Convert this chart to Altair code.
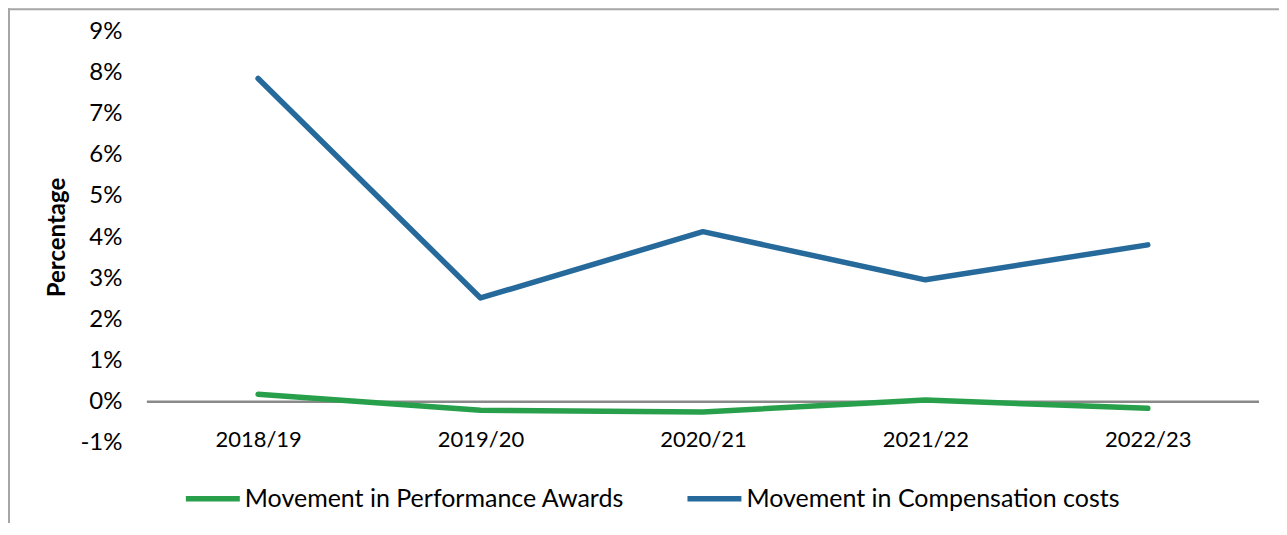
import altair as alt
import pandas as pd

years = ["2018/19", "2019/20", "2020/21", "2021/22", "2022/23"]
performance_awards = [0.18, -0.21, -0.25, 0.04, -0.16]
compensation_costs = [7.85, 2.52, 4.13, 2.96, 3.81]
series_names = ["Movement in Performance Awards", "Movement in Compensation costs"]
series_colors = ["#28A04B", "#26699B"]
y_ticks = list(range(-1, 10))

rows = []
for i, yr in enumerate(years):
    rows.append({"year": yr, "series": series_names[0], "value": performance_awards[i], "order": i})
    rows.append({"year": yr, "series": series_names[1], "value": compensation_costs[i], "order": i})
df = pd.DataFrame(rows)

FONT = "Lato"

y_scale = alt.Scale(domain=[-1, 9], nice=False, zero=False)
x_scale = alt.Scale(domain=years, type="point", padding=0.5)

y_axis = alt.Axis(title="Percentage", values=y_ticks, grid=False, domain=False,
                  ticks=False, labelExpr="datum.value + '%'", labelFont=FONT,
                  labelFontSize=24, labelColor="#000000", labelPadding=25,
                  titleFont=FONT, titleFontSize=24, titleFontWeight="bold",
                  titleColor="#000000", titleX=-89, titleY=206, titleAngle=270,
                  titleAlign="center", titleBaseline="middle")

zero = alt.Chart(pd.DataFrame({"v": [0]})).mark_rule(color="#898989", strokeWidth=2.5).encode(
    y=alt.Y("v:Q", scale=y_scale, axis=y_axis)
)

lines = alt.Chart(df).mark_line(strokeWidth=5.5, strokeCap="round", strokeJoin="round").encode(
    x=alt.X("year:N", scale=x_scale, sort=years,
            axis=alt.Axis(title=None, domain=False, ticks=False, labelFont=FONT,
                          labelFontSize=22, labelColor="#000000", labelPadding=-13,
                          labelAngle=0)),
    y=alt.Y("value:Q", scale=y_scale, axis=y_axis),
    color=alt.Color("series:N",
                    scale=alt.Scale(domain=series_names, range=series_colors),
                    legend=alt.Legend(title=None, orient="none", direction="horizontal",
                                      legendX=36, legendY=438, padding=0,
                                      symbolType="stroke", symbolStrokeWidth=5.5,
                                      symbolSize=2916, labelFont=FONT, labelFontSize=25,
                                      labelColor="#000000", labelOffset=2,
                                      columnPadding=52, labelLimit=600)),
    order="order:Q",
)

frame_v = alt.Chart(pd.DataFrame({"v": [0]})).mark_rule(color="#A6A6A6", strokeWidth=2).encode(
    x=alt.value(-138), y=alt.value(-23), y2=alt.value(505)
)
frame_h = alt.Chart(pd.DataFrame({"v": [0]})).mark_rule(color="#A6A6A6", strokeWidth=2).encode(
    y=alt.value(-22), x=alt.value(-139), x2=alt.value(1140)
)

chart = alt.layer(zero, lines, frame_v, frame_h).properties(
    width=1113, height=412,
    background="#FFFFFF",
    autosize=alt.AutoSizeParams(type="none"),
    padding={"left": 139, "top": 23, "right": 20, "bottom": 80},
).configure_view(stroke=None, strokeWidth=0)

chart.save("out.html", embed_options={"renderer": "svg", "actions": False})
